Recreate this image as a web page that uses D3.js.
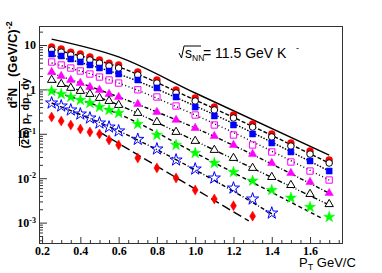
<!DOCTYPE html>
<html>
<head>
<meta charset="utf-8">
<script src="https://cdn.jsdelivr.net/npm/d3@7"></script>
<style>
	body { margin: 0; background: #fff; }
	svg { display: block; }
</style>
</head>
<body>
<div id="chart"></div>
<script>

// pT bins (GeV/c)
const ptBins = [0.25, 0.30, 0.35, 0.40, 0.45, 0.50, 0.55, 0.60, 0.70, 0.80, 0.90, 1.00, 1.10, 1.20, 1.30, 1.40, 1.50, 1.60, 1.70]

// spectra, one array per centrality class
const redCircle  = [9.0, 8.1, 6.9, 6.3, 5.4, 4.6, 3.9, 3.55, 2.46, 1.63, 0.97, 0.64, 0.40, 0.265, 0.166, 0.099, 0.062, 0.041, 0.0257]
const openCircle = [7.7, 6.9, 5.95, 5.4, 4.6, 3.9, 3.37, 3.03, 2.11, 1.39, 0.83, 0.548, 0.344, 0.227, 0.142, 0.085, 0.053, 0.035, 0.022]
const blueSquare = [6.27, 5.65, 4.84, 4.14, 3.55, 3.03, 2.60, 2.22, 1.63, 1.08, 0.675, 0.40, 0.252, 0.158, 0.099, 0.062, 0.039, 0.0244, 0.0145]
const openSquare = [4.14, 3.55, 3.03, 2.60, 2.22, 1.90, 1.63, 1.39, 0.98, 0.675, 0.423, 0.265, 0.158, 0.094, 0.056, 0.039, 0.0232, 0.0145, 0.0091]
const magTri     = [2.46, 2.0, 1.63, 1.39, 1.13, 0.97, 0.788, 0.675, 0.469, 0.310, 0.205, 0.135, 0.089, 0.056, 0.035, 0.022, 0.0131, 0.0082, 0.0046]
const openTri    = [1.63, 1.32, 1.08, 0.92, 0.788, 0.64, 0.548, 0.445, 0.294, 0.184, 0.110, 0.069, 0.0432, 0.0285, 0.0170, 0.0106, 0.0070, 0.0044, 0.0026]
const greenStar  = [0.92, 0.788, 0.675, 0.577, 0.494, 0.40, 0.344, 0.294, 0.166, 0.094, 0.056, 0.037, 0.022, 0.0138, 0.0087, 0.0054, 0.0036, 0.00224, 0.00134]
const blueStar   = [0.494, 0.423, 0.344, 0.279, 0.227, 0.175, 0.142, 0.116, 0.075, 0.0455, 0.0257, 0.0161, 0.0101, 0.0060, 0.0034, 0.00164]
const redDiamond = [0.239, 0.194, 0.158, 0.128, 0.110, 0.099, 0.0725, 0.056, 0.0285, 0.0170, 0.0101, 0.0054, 0.0034, 0.0024, 0.0014]

// fit curves: x anchors and values
const fitX      = [0.25, 0.6, 1.0, 1.7]
const fitRed    = [13.6, 5.4, 0.83, 0.033]
const fitOpenC  = [8.1, 3.2, 0.577, 0.022]
const fitBlueSq = [5.95, 2.22, 0.423, 0.0145]
const fitOpenSq = [3.93, 1.39, 0.265, 0.0091]
const fitMagTri = [2.33, 0.675, 0.135, 0.0046]
const fitOpenTr = [1.55, 0.445, 0.069, 0.0025]
const fitGreenX = [0.25, 0.6, 1.0, 1.67]
const fitGreen  = [0.92, 0.28, 0.037, 0.0012]
const fitStarX  = [0.25, 0.6, 1.0, 1.42]
const fitStar   = [0.494, 0.116, 0.0154, 0.0014]
const fitDiamX  = [0.5, 1.28]
const fitDiam   = [0.110, 0.00109]

const xMajor = [0.2, 0.4, 0.6, 0.8, 1.0, 1.2, 1.4, 1.6]
const yMajor = [1e-3, 1e-2, 1e-1, 1, 10]

var width = 382, height = 273
var plotLeft = 39, plotRight = 342, plotTop = 26, plotBottom = 243

var svg = d3.select("#chart").append("svg")
	.attr("width", width)
	.attr("height", height)
	.style("font-family", "'Liberation Sans', Arial, sans-serif")

var x = d3.scaleLinear().domain([0.184, 1.767]).range([plotLeft, plotRight])
var y = d3.scaleLog().domain([Math.pow(10, -3.459), Math.pow(10, 1.428)]).range([plotBottom, plotTop])

// axes
var serif = "'Liberation Serif', 'Times New Roman', serif"

var xMinor = d3.range(0.2, 1.77, 0.05).filter(v => Math.abs(v * 5 - Math.round(v * 5)) > 1e-6)
svg.append("g")
	.attr("transform", "translate(0," + plotBottom + ")")
	.call(d3.axisBottom(x).tickValues(xMinor).tickSize(-3).tickFormat(""))
	.call(g => g.select(".domain").remove())
	.call(g => g.selectAll("line").attr("stroke", "#333"))

svg.append("g")
	.attr("transform", "translate(0," + plotBottom + ")")
	.call(d3.axisBottom(x).tickValues(xMajor).tickSize(-6).tickPadding(3).tickFormat(d3.format(".1f")))
	.call(g => g.select(".domain").remove())
	.call(g => g.selectAll("line").attr("stroke", "#333"))
	.call(g => g.selectAll("text")
		.attr("fill", "#000")
		.style("font-family", serif)
		.style("font-weight", "bold")
		.style("font-size", "12px"))

var yMinor = []
for (let e = -4; e <= 1; e++) {
	for (let m = 2; m <= 9; m++) {
		let v = m * Math.pow(10, e)
		if (v > y.domain()[0] && v < y.domain()[1]) yMinor.push(v)
	}
}
svg.append("g")
	.attr("transform", "translate(" + plotLeft + ",0)")
	.call(d3.axisLeft(y).tickValues(yMinor).tickSize(-4).tickFormat(""))
	.call(g => g.select(".domain").remove())
	.call(g => g.selectAll("line").attr("stroke", "#333"))

var yAxisGroup = svg.append("g")
	.attr("transform", "translate(" + plotLeft + ",0)")
	.call(d3.axisLeft(y).tickValues(yMajor).tickSize(-8).tickPadding(3).tickFormat(""))
	.call(g => g.select(".domain").remove())
	.call(g => g.selectAll("line").attr("stroke", "#333"))

yAxisGroup.selectAll(".tick text")
	.attr("fill", "#000")
	.style("font-family", serif)
	.style("font-weight", "bold")
	.style("font-size", "12px")
	.each(function(d) {
		let t = d3.select(this)
		let e = Math.round(Math.log10(d))
		if (e === 0) { t.append("tspan").text("1"); return }
		t.append("tspan").text("10")
		if (e !== 1) {
			t.append("tspan").attr("dy", "-0.55em").style("font-size", "8px").text("-" + (-e))
		}
	})

// frame
svg.append("rect")
	.attr("x", plotLeft + 0.5).attr("y", plotTop + 0.5)
	.attr("width", plotRight - plotLeft).attr("height", plotBottom - plotTop)
	.attr("fill", "none").attr("stroke", "#333").attr("stroke-width", 1)

// fit lines
function plotFit(xs, vals, dash) {
	var line = d3.line()
		.x(d => x(d[0]))
		.y(d => y(d[1]))
		.curve(d3.curveMonotoneX)
	svg.append("path")
		.datum(xs.map((v, i) => [v, vals[i]]))
		.attr("fill", "none")
		.attr("stroke", "#000")
		.attr("stroke-width", 1.4)
		.attr("stroke-dasharray", dash)
		.attr("d", line)
}

plotFit(fitX, fitRed, null)
plotFit(fitX, fitOpenC, "4,2")
plotFit(fitX, fitBlueSq, "1.5,1.5")
plotFit(fitX, fitOpenSq, "1,2.5")
plotFit(fitX, fitMagTri, "4,2,1,2")
plotFit(fitX, fitOpenTr, "5,2,1,2,1,2")
plotFit(fitGreenX, fitGreen, "4,3")
plotFit(fitStarX, fitStar, "4,2,1,2")
plotFit(fitDiamX, fitDiam, "9,4")

// markers
function diamondPath(w, h) {
	return "M0," + (-h / 2) + "L" + (w / 2) + ",0L0," + (h / 2) + "L" + (-w / 2) + ",0Z"
}

function plotMarkers(vals, shape, color, filled) {
	var path
	if (shape === "diamond") path = diamondPath(6, 10)
	else path = d3.symbol().type(shape.type).size(shape.size)()
	svg.append("g")
		.selectAll("path")
		.data(vals)
		.enter()
		.append("path")
		.attr("d", path)
		.attr("transform", (d, i) => "translate(" + x(ptBins[i]) + "," + y(d) + ")")
		.attr("fill", filled ? color : (color === "#000" ? "#fff" : "none"))
		.attr("stroke", color)
		.attr("stroke-width", filled ? 0.5 : 1)
}

plotMarkers(redCircle, {type: d3.symbolCircle, size: 38}, "#ff0000", true)
plotMarkers(openCircle, {type: d3.symbolCircle, size: 34}, "#000", false)
plotMarkers(blueSquare, {type: d3.symbolSquare, size: 36}, "#0000ff", true)
plotMarkers(openSquare, {type: d3.symbolSquare, size: 40}, "#ff00ff", false)
plotMarkers(magTri, {type: d3.symbolTriangle, size: 30}, "#ff00ff", true)
plotMarkers(openTri, {type: d3.symbolTriangle, size: 30}, "#000", false)
plotMarkers(greenStar, {type: d3.symbolStar, size: 38}, "#00ff00", true)
plotMarkers(blueStar, {type: d3.symbolStar, size: 46}, "#0000ff", false)
plotMarkers(redDiamond, "diamond", "#ff0000", true)

// annotation: sqrt(s_NN) = 11.5 GeV K-
var ann = svg.append("g").attr("fill", "#000")
ann.append("path")
	.attr("d", "M179,53 L181.5,58 L184,46 L201,46")
	.attr("fill", "none").attr("stroke", "#000").attr("stroke-width", 1)
ann.append("text").attr("x", 185).attr("y", 58).style("font-size", "14px").text("s")
ann.append("text").attr("x", 192).attr("y", 61).style("font-size", "8.5px").text("NN")
ann.append("text").attr("x", 203).attr("y", 58).style("font-size", "14px").text("= 11.5 GeV  K")
ann.append("text").attr("x", 296).attr("y", 51).style("font-size", "9px").text("-")

// x axis title
var xt = svg.append("text")
	.attr("x", 299).attr("y", 267)
	.style("font-size", "13px")
xt.append("tspan").text("P")
xt.append("tspan").attr("dy", 3).style("font-size", "9px").text("T")
xt.append("tspan").attr("dy", -3).text(" GeV/C")

// y axis title (rotated)
var yt = svg.append("g").attr("transform", "rotate(-90)")
	.style("font-weight", "bold")

var num = yt.append("text")
	.attr("x", -98).attr("y", 17)
	.attr("text-anchor", "middle")
	.style("font-size", "12px")
num.append("tspan").text("d")
num.append("tspan").attr("dy", -5).style("font-size", "8px").text("2")
num.append("tspan").attr("dy", 5).text("N")

svg.append("line")
	.attr("x1", 19.5).attr("x2", 19.5)
	.attr("y1", 81).attr("y2", 146)
	.attr("stroke", "#000").attr("stroke-width", 1)

var den = yt.append("text")
	.attr("x", -113).attr("y", 29)
	.attr("text-anchor", "middle")
	.style("font-size", "10.5px")
den.append("tspan").text("(2\u03c0) p")
den.append("tspan").attr("dy", 3).style("font-size", "7.5px").text("T")
den.append("tspan").attr("dy", -3).text(" dp")
den.append("tspan").attr("dy", 3).style("font-size", "7.5px").text("T")
den.append("tspan").attr("dy", -3).text(" dy")

var unit = yt.append("text")
	.attr("x", -77).attr("y", 17)
	.style("font-size", "13px")
unit.append("tspan").text("(GeV/C)")
unit.append("tspan").attr("dy", -5).style("font-size", "9px").text("-2")

</script>
</body>
</html>
